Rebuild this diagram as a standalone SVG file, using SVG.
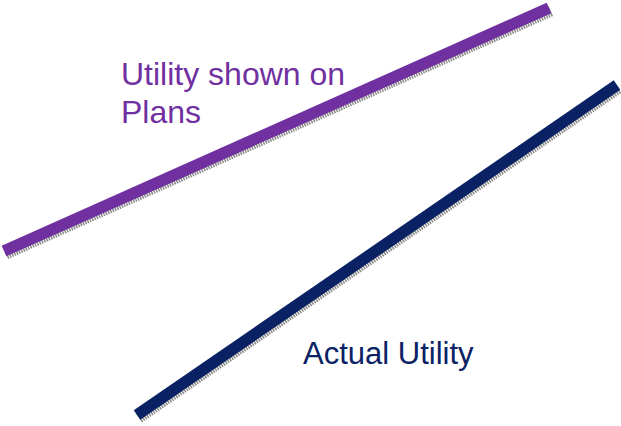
<svg xmlns="http://www.w3.org/2000/svg" width="621" height="426" viewBox="0 0 621 426">
<style>
.sh{stroke:#8a8a8a;stroke-width:11;stroke-dasharray:1.5 1;}
.t{font-family:"Liberation Sans",Arial,sans-serif;}
</style>
<rect width="621" height="426" fill="#fff"/>
<g id="connectors">
<line class="sh" x1="6" y1="254" x2="551" y2="11"/>
<line id="planned" x1="4" y1="251" x2="549" y2="8" stroke="#7030A0" stroke-width="11.5"/>
<line class="sh" x1="139" y1="418" x2="619" y2="88"/>
<line id="actual" x1="137" y1="415" x2="617" y2="85" stroke="#0A2264" stroke-width="11.5"/>
</g>
<g id="label-plans">
<text class="t" x="121" y="85" font-size="32" fill="#7030A0">Utility shown on</text>
<text class="t" x="121" y="123" font-size="32" fill="#7030A0">Plans</text>
</g>
<g id="label-actual">
<text class="t" x="303" y="364" font-size="31" fill="#0A2264">Actual Utility</text>
</g>
</svg>
